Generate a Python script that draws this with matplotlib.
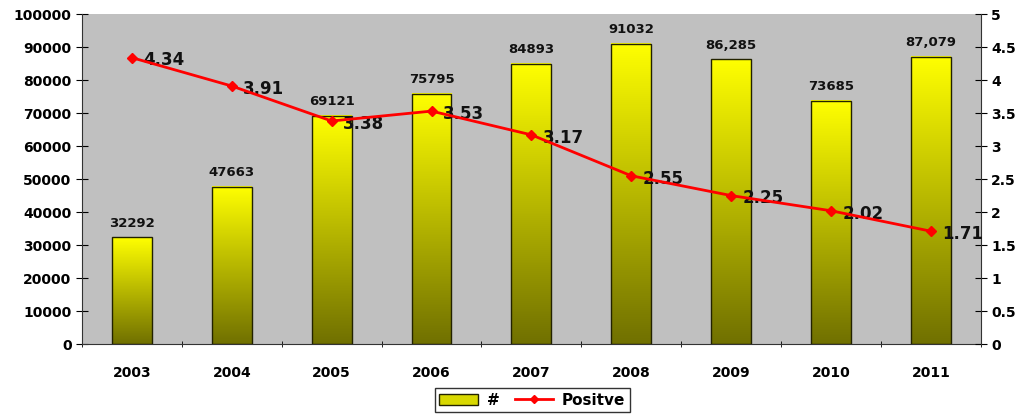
import matplotlib.pyplot as plt
import numpy as np
from matplotlib.lines import Line2D
from matplotlib.patches import Patch

years = ["2003", "2004", "2005", "2006", "2007", "2008", "2009", "2010", "2011"]
counts = [32292, 47663, 69121, 75795, 84893, 91032, 86285, 73685, 87079]
count_labels = ["32292", "47663", "69121", "75795", "84893", "91032", "86,285", "73685", "87,079"]
positive = [4.34, 3.91, 3.38, 3.53, 3.17, 2.55, 2.25, 2.02, 1.71]

plt.rcParams['font.family'] = ['DejaVu Sans']
plt.rcParams['font.weight'] = 'bold'

fig = plt.figure(figsize=(10.18, 4.15), dpi=100)
ax = fig.add_axes([0.0805, 0.171, 0.883, 0.795])
ax.set_facecolor('#C0C0C0')

x = np.arange(len(years))
w = 0.4

# vertical gradient yellow -> olive for each bar
grad = np.linspace(0, 1, 256).reshape(-1, 1)
top = np.array([1.0, 1.0, 0.0])
bot = np.array([0.44, 0.44, 0.0])
img = bot + (top - bot) * grad[:, :, None]
for xi, c, lab in zip(x, counts, count_labels):
    ax.imshow(img, extent=(xi - w / 2, xi + w / 2, 0, c), origin='lower',
              aspect='auto', zorder=2, interpolation='bilinear')
    ax.add_patch(plt.Rectangle((xi - w / 2, 0), w, c, fill=False,
                               edgecolor='#222200', linewidth=1, zorder=3))
    ax.text(xi, c + 2300, lab, ha='center', va='bottom', fontsize=9.5,
            fontweight='bold', color='#111111', zorder=5)
ax.set_xlim(-0.5, len(years) - 0.5)
ax.set_ylim(0, 100000)

ax.set_xticks(x)
ax.set_xticklabels(years)
ax.set_xticks(np.arange(len(years) + 1) - 0.5, minor=True)
ax.tick_params(axis='x', which='major', length=0, pad=16, labelsize=10)
ax.tick_params(axis='x', which='minor', length=5, direction='inout')
ax.set_yticks(np.arange(0, 100001, 10000))
ax.tick_params(axis='y', labelsize=10, direction='inout', length=8)
for lbl in ax.get_xticklabels() + ax.get_yticklabels():
    lbl.set_fontweight('bold')

for s in ['top', 'right']:
    ax.spines[s].set_visible(False)
ax.spines['left'].set_color('#333333')
ax.spines['bottom'].set_color('#333333')

ax2 = ax.twinx()
ax2.plot(x, positive, color='#FF0000', linewidth=2, marker='D', markersize=5, zorder=6)
for xi, p in zip(x, positive):
    ax2.annotate(f"{p:.2f}", (xi, p), xytext=(8, -2), textcoords='offset points',
                 ha='left', va='center', fontsize=12, fontweight='bold', color='#111111')
ax2.set_ylim(0, 5)
ax2.set_yticks(np.arange(0, 5.01, 0.5))
ax2.set_yticklabels(["0", "0.5", "1", "1.5", "2", "2.5", "3", "3.5", "4", "4.5", "5"])
ax2.tick_params(axis='y', labelsize=10, direction='inout', length=8)
for lbl in ax2.get_yticklabels():
    lbl.set_fontweight('bold')
for s in ['top', 'left', 'bottom']:
    ax2.spines[s].set_visible(False)
ax2.spines['right'].set_color('#333333')

handles = [Patch(facecolor='#D8D800', edgecolor='#222200', label='#'),
           Line2D([0], [0], color='#FF0000', linewidth=2, marker='D', markersize=4, label='Positve')]
leg = fig.legend(handles=handles, loc='lower center', bbox_to_anchor=(0.523, -0.012), ncol=2,
                 frameon=True, fancybox=False, edgecolor='black', fontsize=11,
                 handlelength=2.5, columnspacing=1.0, borderpad=0.3, handletextpad=0.6)
for t in leg.get_texts():
    t.set_fontweight('bold')

fig.savefig('out.png', dpi=100)
